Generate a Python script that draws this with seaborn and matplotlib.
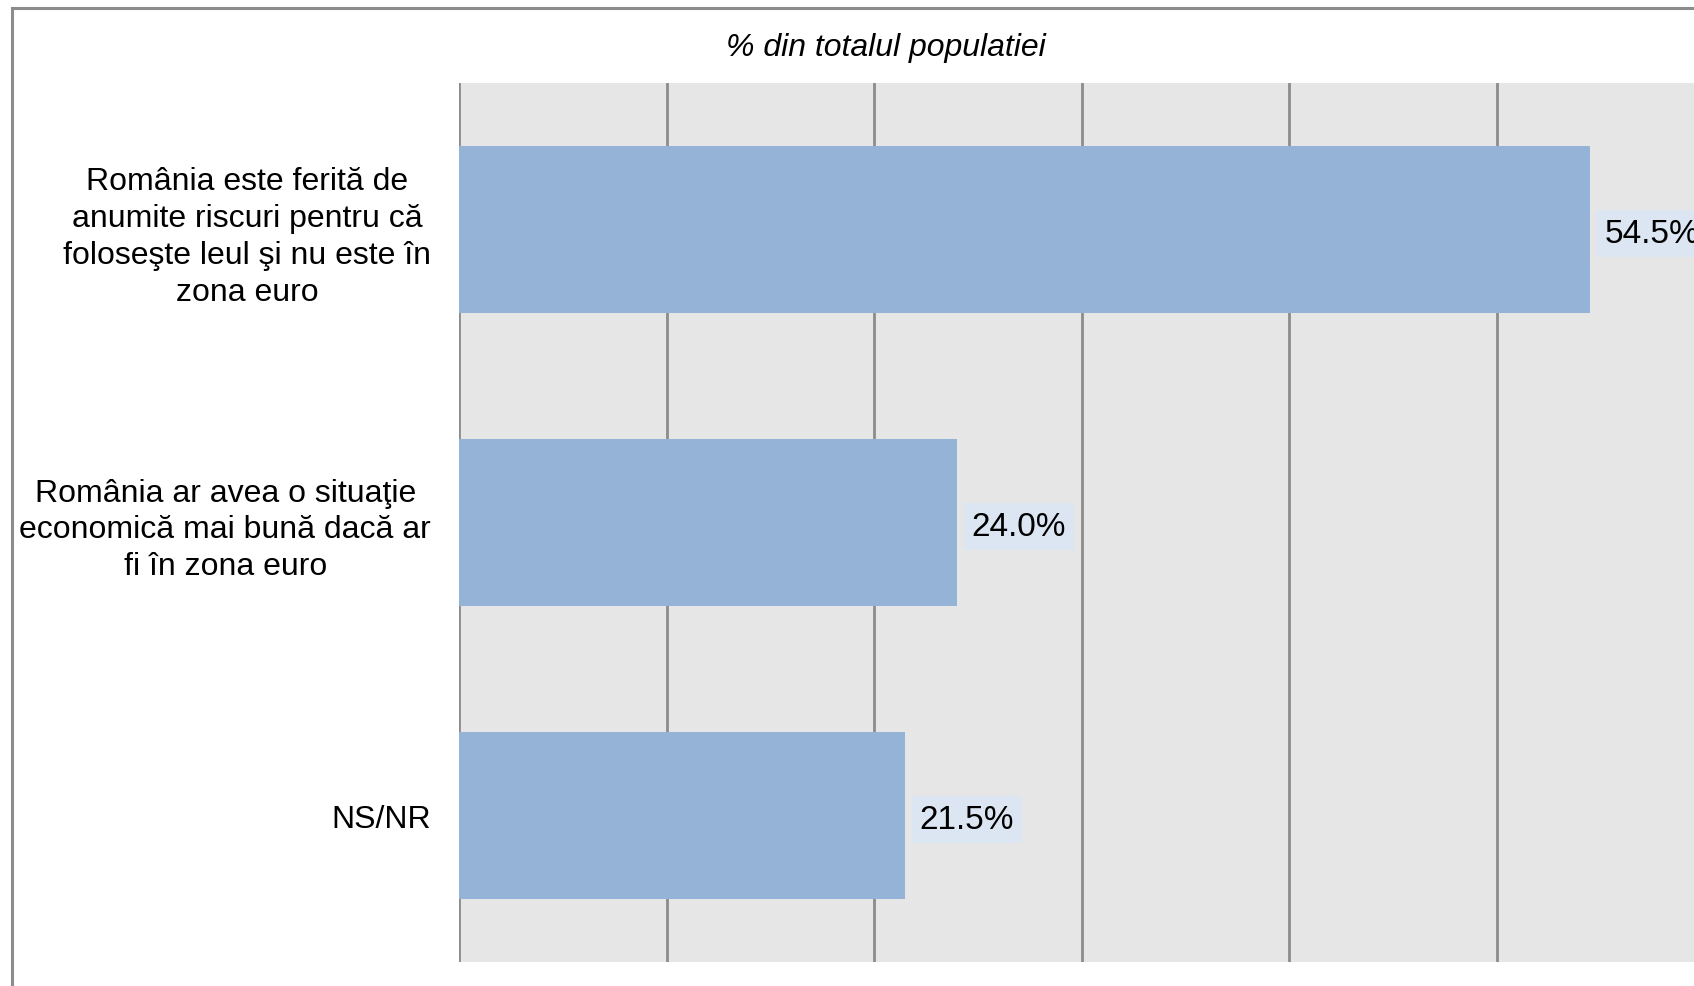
import matplotlib
matplotlib.use("Agg")
import matplotlib.pyplot as plt
from matplotlib.patches import Rectangle
import seaborn as sns
import pandas as pd

# date
categorii = [
    "România este ferită de\nanumite riscuri pentru că\nfoloseşte leul şi nu este în\nzona euro",
    "România ar avea o situaţie\neconomică mai bună dacă ar\nfi în zona euro",
    "NS/NR",
]
procente = [54.5, 24.0, 21.5]
etichete = ["54.5%", "24.0%", "21.5%"]
titlu = "% din totalul populatiei"

df = pd.DataFrame({"categorie": categorii, "procent": procente})

sns.set_theme(style="white")
plt.rcParams["font.family"] = ["Liberation Sans", "DejaVu Sans"]
plt.rcParams["text.color"] = "black"
plt.rcParams["ytick.color"] = "black"

W, H = 1694, 987
fig = plt.figure(figsize=(W / 100, H / 100), dpi=100)

# chenarul graficului (taiat la dreapta si jos)
fig.patches.append(Rectangle((12 / W, -0.05), 1.2, 1 - 8.5 / H + 0.05,
                             transform=fig.transFigure, fill=False,
                             edgecolor="#8c8c8c", linewidth=2.2, zorder=0))

stanga, sus, jos, dreapta = 459, 84, 963, 1704
ax = fig.add_axes([stanga / W, (H - jos) / H, (dreapta - stanga) / W, (jos - sus) / H])
ax.set_facecolor("#e6e6e6")

sns.barplot(data=df, x="procent", y="categorie", color="#95b3d7",
            saturation=1, width=0.57, orient="h", ax=ax, zorder=3,
            linewidth=0, edgecolor="none")

ax.set_xlim(0, 60)
ax.set_ylim(2.5, -0.5)
ax.set_xticks(range(0, 61, 10))
ax.set_xticklabels([])
ax.xaxis.grid(True, color="#8c8c8c", linewidth=2)
ax.yaxis.grid(False)
ax.set_axisbelow(True)
for s in ax.spines.values():
    s.set_visible(False)
ax.tick_params(axis="both", length=0)
ax.tick_params(axis="y", pad=20, labelsize=23, labelcolor="black")
for lbl in ax.get_yticklabels():
    lbl.set_multialignment("center")
    lbl.set_linespacing(1.3)
ax.set_xlabel("")
ax.set_ylabel("")

# etichete cu valori
for i, (v, t) in enumerate(zip(procente, etichete)):
    ax.annotate(t, xy=(v, i), xytext=(10.5, -3), textcoords="offset points",
                ha="left", va="center", fontsize=24, color="black",
                bbox=dict(boxstyle="square,pad=0.24", facecolor="#dce6f2",
                          edgecolor="none"),
                annotation_clip=False, zorder=5)

fig.text(886 / W, 1 - 48 / H, titlu, ha="center", va="center",
         fontsize=23, style="italic", color="black")

fig.savefig("out.png", dpi=100)
